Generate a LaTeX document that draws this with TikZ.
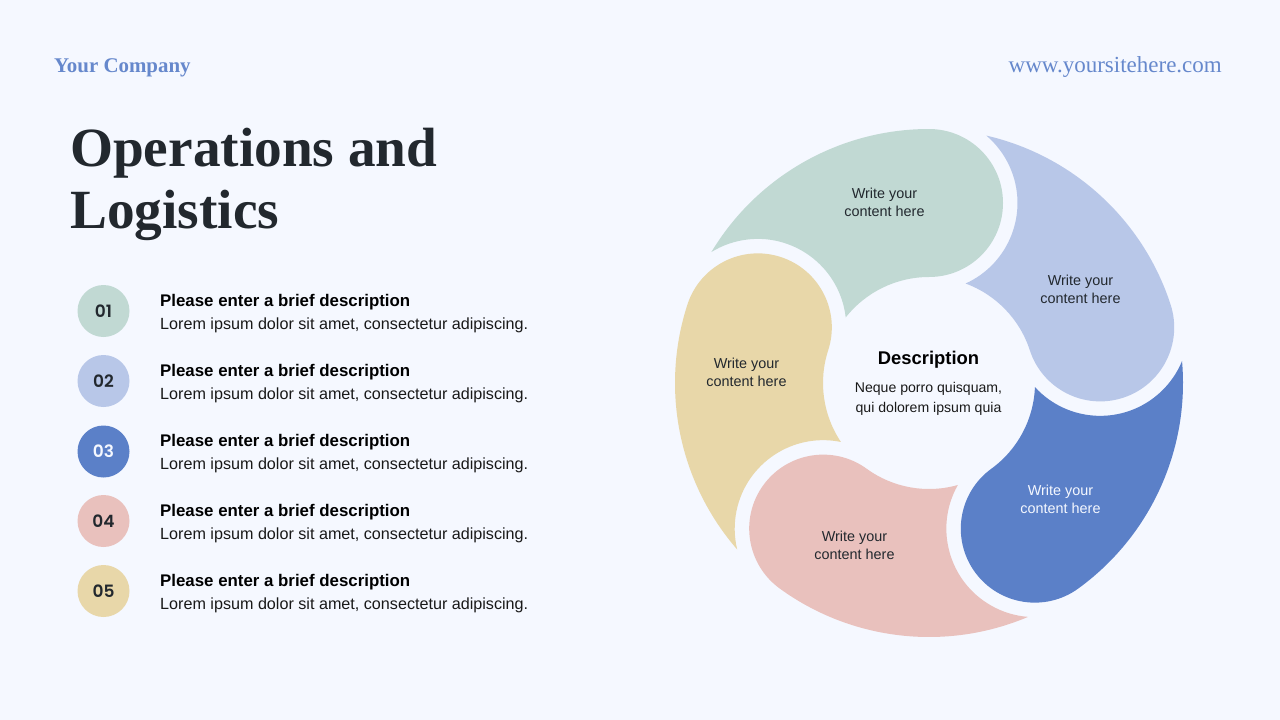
\documentclass[tikz,border=0pt]{standalone}
\usepackage{fontspec}
\setmainfont{Liberation Sans}
\newfontfamily\headfont{Liberation Serif}
\newfontfamily\numfont{Poppins SemiBold}
\definecolor{pagebg}{HTML}{F5F8FF}
\definecolor{cgreen}{HTML}{C1D9D3}
\definecolor{clight}{HTML}{B8C7E8}
\definecolor{cblue}{HTML}{5B80C8}
\definecolor{cpink}{HTML}{E9C1BD}
\definecolor{cyellow}{HTML}{E8D7A9}
\definecolor{inkdark}{HTML}{22282E}
\definecolor{inklink}{HTML}{6688CC}
\tikzset{
  badge/.style={circle,minimum size=52pt,inner sep=0pt,font=\numfont\fontsize{17}{18}\selectfont},
  itemhead/.style={anchor=base west,inner sep=0pt,text=black,font=\bfseries\fontsize{16.85}{20}\selectfont},
  itemtext/.style={anchor=base west,inner sep=0pt,text=black!90,font=\fontsize{16.15}{20}\selectfont},
  titleline/.style={anchor=base west,inner sep=0pt,text=inkdark,font=\headfont\bfseries\fontsize{55.3}{62}\selectfont},
  petallabel/.style={align=center,inner sep=0pt,text=inkdark,font=\fontsize{14.4}{18}\selectfont},
}
\newcommand{\petalpath}{(148.97:254pt) arc[start angle=148.97,end angle=90,radius=254pt]
  arc[start angle=90,end angle=-90,radius=74pt]
  arc[start angle=90,end angle=141.8,radius=106pt]
  arc[start angle=6.45,end angle=121.67,radius=88.5pt] -- cycle}
\begin{document}
\begin{tikzpicture}[x=1pt,y=-1pt]
    \useasboundingbox (0,0) rectangle (1280,720);
    \fill[pagebg] (0,0) rectangle (1280,720);
    \node[anchor=base west,inner sep=0pt,text=inklink,font=\headfont\bfseries\fontsize{20.9}{24}\selectfont] (company) at (54,72) {Your Company};
    \node[anchor=base east,inner sep=0pt,text=inklink,font=\headfont\fontsize{23}{26}\selectfont] (site) at (1222,72) {www.yoursitehere.com};
    \node[titleline] (title1) at (70,166) {Operations and};
    \node[titleline] (title2) at (70,228) {Logistics};
    \foreach \idx/\ypos/\col/\numcol in {1/311/cgreen/inkdark,2/381/clight/inkdark,3/451.5/cblue/pagebg,4/521/cpink/inkdark,5/591/cyellow/inkdark}{
      \node[badge,fill=\col,text=\numcol] (badge\idx) at (103.5,\ypos) {0\idx};
      \node[itemhead] (head\idx) at (160,\ypos-5) {Please enter a brief description};
      \node[itemtext] (text\idx) at (160,\ypos+18) {Lorem ipsum dolor sit amet, consectetur adipiscing.};
    }
    \foreach \ang/\col in {0/cgreen,-72/clight,-144/cblue,-216/cpink,-288/cyellow}{
      \begin{scope}[shift={(929,383)},rotate=\ang]
        \fill[\col] \petalpath;
      \end{scope}
    }
    \node[petallabel] (label1) at (884.5,202) {Write your\\content here};
    \node[petallabel] (label2) at (1080.5,289) {Write your\\content here};
    \node[petallabel,text=pagebg] (label3) at (1060.5,499) {Write your\\content here};
    \node[petallabel] (label4) at (854.5,545) {Write your\\content here};
    \node[petallabel] (label5) at (746.5,372) {Write your\\content here};
    \node[anchor=base,inner sep=0pt,text=black,font=\bfseries\fontsize{18.4}{22}\selectfont] (deschead) at (928.5,364.5) {Description};
    \node[petallabel,text=black!90,font=\fontsize{14.1}{20}\selectfont] (desctext) at (928.5,399) {Neque porro quisquam,\\qui dolorem ipsum quia};
\end{tikzpicture}
\end{document}
